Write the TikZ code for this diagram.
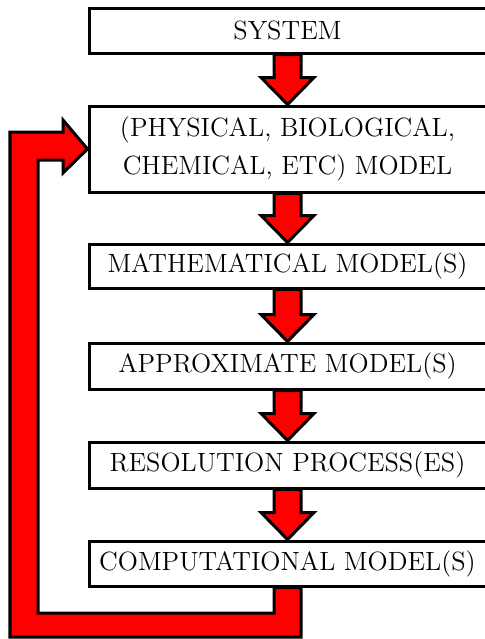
\documentclass[tikz,border=0pt]{standalone}
\usepackage{tikz}
\usetikzlibrary{calc}
\tikzset{
  stage/.style={draw, line width=1.5pt, minimum width=198.5pt, inner sep=0pt,
    align=center, font=\fontsize{13.2}{19}\selectfont},
  fat/.style={draw, line width=1.5pt, fill=red, line join=miter},
}
% thick red arrow from the bottom of one box to the top of the next
\newcommand{\fatarrow}[2]{
  \draw[fat] ($(#1.south)+(-13.5,0)$) -- ($(#2.north)+(-13.5,-27)$)
    -- ($(#2.north)+(-26.5,-27)$) -- (#2.north) -- ($(#2.north)+(26.5,-27)$)
    -- ($(#2.north)+(13.5,-27)$) -- ($(#1.south)+(13.5,0)$) -- cycle;
}

\begin{document}
\begin{tikzpicture}[x=0.5pt, y=-0.5pt]
\useasboundingbox (0,0) rectangle (484,639);
\node[stage, minimum height=22.5pt] (sys)  at (287.5,30.5)  {SYSTEM};
\node[stage, minimum height=43pt]   (phys) at (287.5,149)   {(PHYSICAL, BIOLOGICAL,\\CHEMICAL, ETC) MODEL};
\node[stage, minimum height=22pt]   (math) at (287.5,266)   {MATHEMATICAL MODEL(S)};
\node[stage, minimum height=23pt]   (appr) at (287.5,366)   {APPROXIMATE MODEL(S)};
\node[stage, minimum height=23pt]   (reso) at (287.5,465)   {RESOLUTION PROCESS(ES)};
\node[stage, minimum height=22.5pt] (comp) at (287.5,563.5) {COMPUTATIONAL MODEL(S)};
\fatarrow{sys}{phys}
\fatarrow{phys}{math}
\fatarrow{math}{appr}
\fatarrow{appr}{reso}
\fatarrow{reso}{comp}
% feedback loop
\draw[fat] ($(comp.south)+(13.5,0)$) |- (10,637) |- (63,132) -- (63,120)
  -- (phys.west) -- (63,173) -- (63,160) -| (38,613)
  -| ($(comp.south)+(-13.5,0)$) -- cycle;
\end{tikzpicture}
\end{document}
